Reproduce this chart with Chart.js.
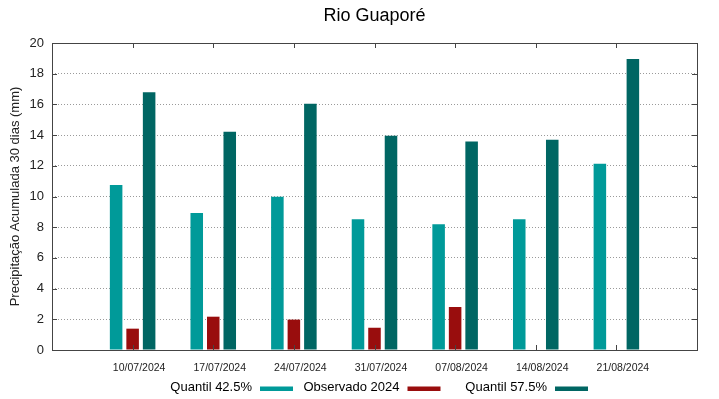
<!DOCTYPE html>
<html>
<head>
<meta charset="utf-8">
<script src="https://cdn.jsdelivr.net/npm/chart.js@4"></script>
<style>
  html, body { margin: 0; padding: 0; background: #fff; }
  #wrap { width: 719px; height: 399px; }
</style>
</head>
<body>
<div id="wrap"><canvas id="myChart" width="719" height="399"></canvas></div>
<script>
const chartTitle = 'Rio Guaporé';
const dates = ['10/07/2024', '17/07/2024', '24/07/2024', '31/07/2024', '07/08/2024', '14/08/2024', '21/08/2024'];
const quantil425 = [10.75, 8.93, 9.99, 8.51, 8.2, 8.51, 12.14];
const observado2024 = [1.39, 2.17, 1.98, 1.45, 2.8, null, null];
const quantil575 = [16.79, 14.22, 16.05, 13.96, 13.59, 13.7, 18.96];

// empty slots on both ends so the dates sit one step in from the frame
const pad = arr => [null, ...arr, null];
const labels = ['', ...dates, ''];

const FONT = "'Liberation Sans', Arial, sans-serif";

const frame = {
    id: 'frame',
    afterDraw(chart) {
        const { ctx, chartArea: a, scales } = chart;
        ctx.save();
        ctx.strokeStyle = '#444';
        ctx.lineWidth = 1;
        ctx.beginPath();
        // small ticks at each date, top and bottom
        for (let i = 1; i <= dates.length; i++) {
            const x = Math.round(scales.x.getPixelForValue(i)) + 0.5;
            ctx.moveTo(x, a.top); ctx.lineTo(x, a.top + 5);
            ctx.moveTo(x, a.bottom); ctx.lineTo(x, a.bottom - 5);
        }
        // small ticks on the y values, left and right
        for (let v = 2; v < 20; v += 2) {
            const y = Math.round(scales.y.getPixelForValue(v)) + 0.5;
            ctx.moveTo(a.left, y); ctx.lineTo(a.left + 5, y);
            ctx.moveTo(a.right, y); ctx.lineTo(a.right - 5, y);
        }
        ctx.stroke();
        ctx.strokeRect(Math.round(a.left) + 0.5, Math.round(a.top) + 0.5,
            Math.round(a.right - a.left), Math.round(a.bottom - a.top));

        // title
        ctx.fillStyle = '#000';
        ctx.font = '18px ' + FONT;
        ctx.textAlign = 'center';
        ctx.textBaseline = 'middle';
        ctx.fillText(chartTitle, (a.left + a.right) / 2, 16);

        // legend: text first, then the swatch (gnuplot style)
        ctx.font = '13px ' + FONT;
        ctx.textAlign = 'right';
        chart.data.datasets.forEach((ds, i) => {
            const swEnd = 293 + 147.5 * i;
            ctx.fillStyle = '#000';
            ctx.fillText(ds.label, swEnd - 41, 387.5);
            ctx.fillStyle = ds.backgroundColor;
            ctx.fillRect(swEnd - 33, 386.5, 33, 4.5);
        });
        ctx.restore();
    }
};

const ctx = document.getElementById('myChart').getContext('2d');
const chart = new Chart(ctx, {
    type: 'bar',
    data: {
        labels: labels,
        datasets: [
            { label: 'Quantil 42.5%', data: pad(quantil425), backgroundColor: '#009a99' },
            { label: 'Observado 2024', data: pad(observado2024), backgroundColor: '#990d0d' },
            { label: 'Quantil 57.5%', data: pad(quantil575), backgroundColor: '#006663' }
        ]
    },
    options: {
        responsive: false,
        animation: false,
        categoryPercentage: 0.614,
        barPercentage: 0.76,
        layout: { padding: { top: 43, right: 22, left: 0, bottom: 0 } },
        plugins: {
            legend: { display: false },
            tooltip: { enabled: false }
        },
        scales: {
            x: {
                type: 'category',
                offset: false,
                grid: { display: false, drawTicks: false },
                border: { display: false },
                ticks: {
                    autoSkip: false,
                    maxRotation: 0,
                    padding: 12,
                    labelOffset: 6.5,
                    color: '#222',
                    font: { family: FONT, size: 10.5 }
                },
                afterFit: s => { s.height = 49; }
            },
            y: {
                min: 0,
                max: 20,
                border: { display: false, dash: [1, 2] },
                grid: {
                    drawTicks: false,
                    color: c => (c.tick.value === 0 || c.tick.value === 20) ? 'rgba(0,0,0,0)' : '#9a9a9a',
                    lineWidth: 1
                },
                ticks: {
                    stepSize: 2,
                    padding: 8,
                    color: '#222',
                    font: { family: FONT, size: 13 }
                },
                title: {
                    display: true,
                    text: 'Precipitação Acumulada 30 dias (mm)',
                    color: '#222',
                    padding: 8,
                    font: { family: FONT, size: 13 }
                },
                afterFit: s => { s.width = 52; }
            }
        }
    },
    plugins: [frame]
});
</script>
</body>
</html>
